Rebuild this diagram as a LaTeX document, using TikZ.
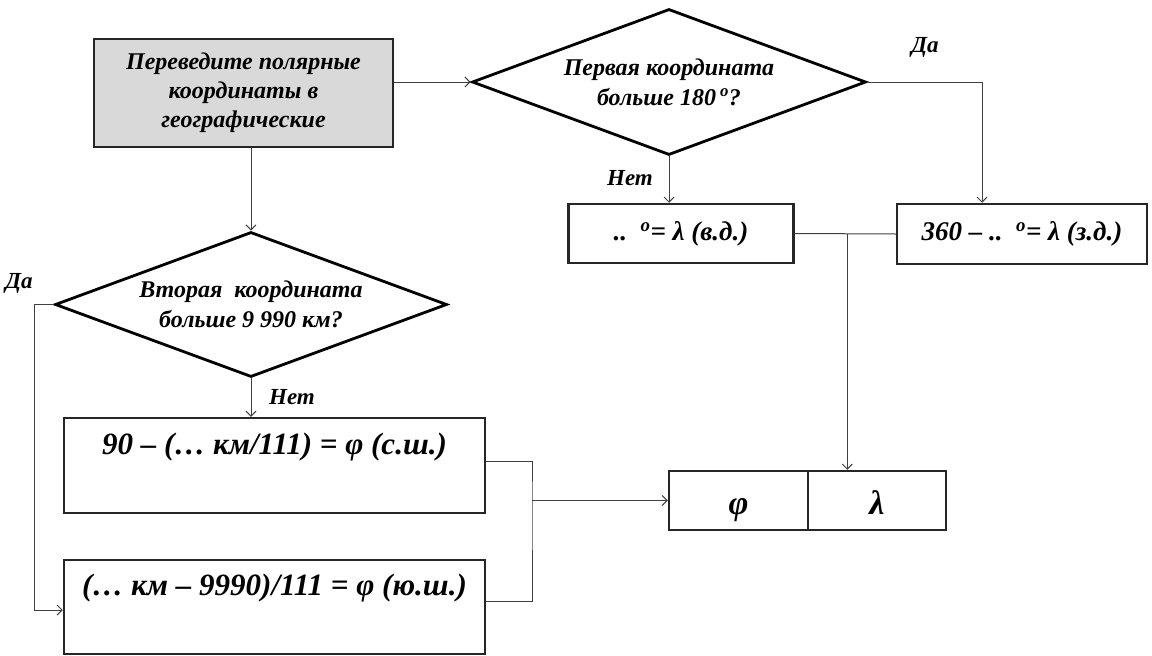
\documentclass[tikz,border=0pt]{standalone}
\usepackage{fontspec}
\setmainfont{Liberation Serif}
\usepackage{tikz}
\usetikzlibrary{positioning, arrows.meta, shapes.geometric, calc}

\newcommand{\fsz}[2]{\fontsize{#1}{#2}\selectfont\bfseries\itshape}

\begin{document}
\begin{tikzpicture}[x=1pt, y=-1pt,
    block/.style={rectangle, draw=black!85, line width=2.5pt, align=center, inner sep=0pt},
    decision/.style={diamond, draw=black, line width=2.8pt, align=center, inner sep=0pt,
                     aspect=2.7, font=\fsz{24}{30}},
    result/.style={block, minimum width=139pt, minimum height=59pt, font=\fsz{34}{36},
                   text height=27pt, text depth=0pt},
    arrow/.style={-{Straight Barb[length=5pt, width=10pt]}, line width=1pt, draw=black!75},
    link/.style={line width=1pt, draw=black!75},
    answer/.style={font=\fsz{23}{26}}
]
    \useasboundingbox (0,0) rectangle (1152,656);

    % Start
    \node[block, fill=black!15, minimum width=299pt, minimum height=108pt, font=\fsz{24}{29}]
        (start) at (243.5, 93) {Переведите полярные\\ координаты в\\ географические};

    % First coordinate
    \node[decision, minimum width=394pt, minimum height=146pt] (dlon) at (669, 82)
        {Первая координата\\ больше 180\,\textsuperscript{o}?};
    \node[block, minimum width=225pt, minimum height=59pt, font=\fsz{27}{30}]
        (east) at (681, 233.5) {..\ \ \textsuperscript{o}= λ (в.д.)};
    \node[block, minimum width=250pt, minimum height=60pt, font=\fsz{27}{30}]
        (west) at (1022, 234) {360 – ..\ \ \textsuperscript{o}= λ (з.д.)};

    % Second coordinate
    \node[decision, minimum width=392pt, minimum height=145pt] (dlat) at (251, 304.5)
        {Вторая\ \ координата\\ больше 9 990 км?};
    \node[block, minimum width=421pt, minimum height=95pt, font=\fsz{31}{34}]
        (north) at (274.5, 465.5) {90 – (… км/111) = φ (с.ш.)\\ \strut};
    \node[block, minimum width=421pt, minimum height=94pt, font=\fsz{31}{34}]
        (south) at (274.5, 607) {(… км – 9990)/111 = φ (ю.ш.)\\ \strut};

    % Result
    \node[result] (phi) at (738.5, 500.5) {φ};
    \node[result, minimum width=138pt] (lam) at (877, 500.5) {λ};

    % Answers
    \node[answer] (yeslon) at (925, 47) {Да};
    \node[answer] (nolon) at (630, 178) {Нет};
    \node[answer] (yeslat) at (19, 283) {Да};
    \node[answer] (nolat) at (292, 397) {Нет};

    % Arrows
    \draw[arrow] (start.east |- dlon.west) -- (dlon.west);
    \draw[arrow] (dlat.north |- start.south) -- (dlat.north);
    \draw[arrow] (dlon.east) -| ([xshift=-40pt]west.north);
    \draw[arrow] (dlon.south) -- (dlon.south |- east.north);
    \draw[arrow] (dlat.south) -- (dlat.south |- north.north);
    \draw[arrow] (dlat.west) -- ++(-19,0) |- ([yshift=-3pt]south.west);

    % Longitude to result
    \coordinate (lonjoin) at ($(east.east)!0.52!(west.west)$);
    \draw[link] (east.east) -- (west.west);
    \draw[arrow] (lonjoin) -- (lonjoin |- lam.north);

    % Latitude to result
    \coordinate (latjoin) at (532, 500.5);
    \draw[link] ([yshift=4pt]north.east) -| (latjoin) |- ([yshift=6pt]south.east);
    \draw[arrow] (latjoin) -- (phi.west);

\end{tikzpicture}
\end{document}
